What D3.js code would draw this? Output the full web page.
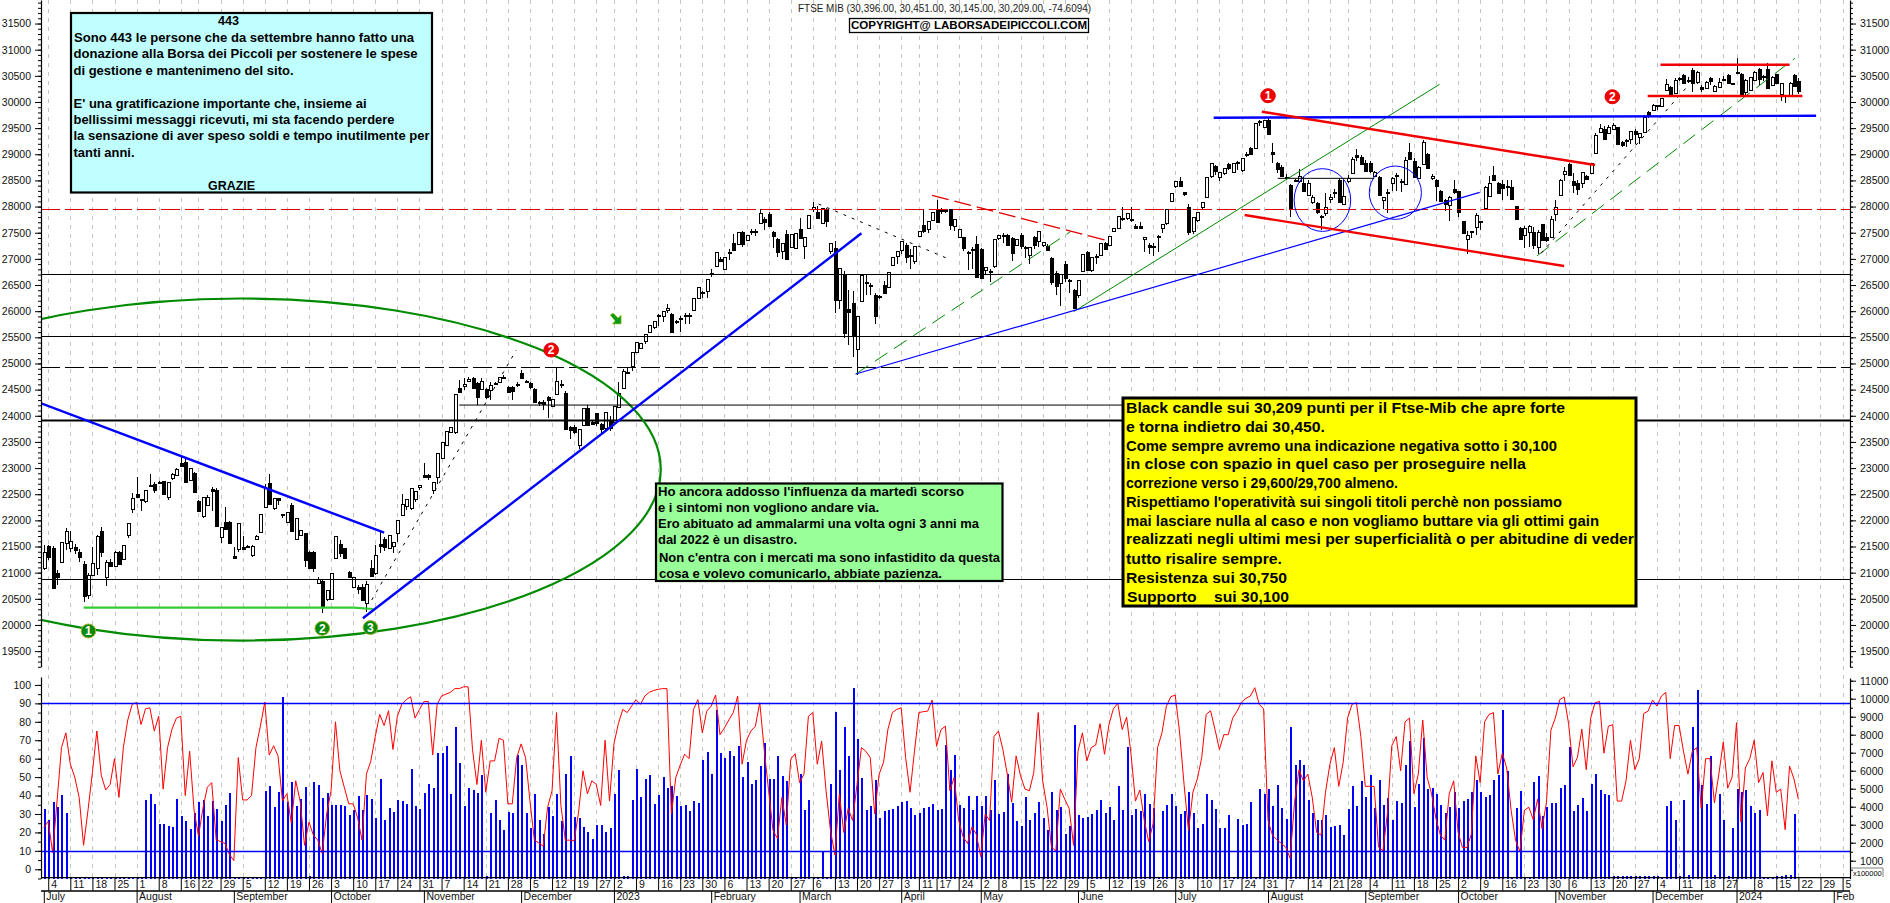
<!DOCTYPE html>
<html>
<head>
<meta charset="utf-8">
<style>
  html, body { margin: 0; padding: 0; background: #fff; overflow: hidden; }
  svg { display: block; }
  text { font-family: "Liberation Sans", Arial, sans-serif; fill: #000; }
  .axis text { font-size: 10.5px; fill: #111; }
  .box text { font-weight: bold; }
</style>
</head>
<body>
<script src="https://cdn.jsdelivr.net/npm/d3@7"></script>
<script>
// daily FTSE MIB candles, one entry per session
let opens = [
  21100,21510,21480,21000,21200,21560,21465,21495,21400,21170,
  20570,20950,21100,21790,20920,21210,21140,21400,21260,21720,
  22210,22500,22400,22385,22665,22700,22740,22745,22440,22800,
  22870,23090,23120,22770,22910,22370,22080,22300,22600,22580,
  21680,21975,21975,21320,21445,21495,21505,21330,21640,21770,
  22250,22720,22230,22420,22115,21975,22290,21640,21720,21750,
  21400,21400,20790,20840,20490,20490,21270,21550,21465,21015,
  20730,20730,20730,20420,21080,20985,21540,21640,21480,21510,
  21765,22100,22270,22230,22400,22630,22865,22865,22565,22835,
  23200,23440,23695,23675,24540,24570,24670,24725,24620,24520,
  24520,24480,24620,24650,24750,24555,24555,24615,24810,24665,
  24620,24520,24270,24260,24350,24200,24410,24600,24430,23780,
  23780,23440,23820,24140,23880,24045,23850,23760,23910,23885,
  24170,24535,24840,24940,25225,25290,25415,25620,25690,25920,
  25905,26030,25945,25810,25860,25930,25930,26020,26260,26370,
  26375,26720,26870,27005,26820,27125,27300,27300,27520,27365,
  27530,27530,27695,27760,27855,27520,27380,27140,27470,27235,
  27205,27570,27235,27585,27950,27905,27680,27955,27140,27205,
  26210,26700,26040,26150,25270,26200,26560,26490,26310,26290,
  26500,26470,26885,27045,27170,27265,27065,26970,27445,27650,
  27555,27745,27935,27915,27920,27950,27635,27415,27415,27140,
  27170,27280,27185,26800,26770,26850,27390,27460,27460,27395,
  27255,27460,27220,27075,27415,27350,27265,27255,27015,26735,
  26535,26900,26590,26410,26310,26770,27130,26800,27050,27075,
  27300,27270,27535,27585,27780,27775,27770,27635,27635,27390,
  27265,27250,27440,27575,27680,28095,28380,28495,28275,28000,
  27540,27730,27985,28190,28585,28775,28560,28635,28815,28655,
  28860,28700,29010,29115,29130,29620,29530,29655,29040,28840,
  28765,28575,28415,28500,28490,28460,28235,28085,28065,27820,
  27870,28160,28275,28510,28065,28480,28640,28990,28955,28830,
  28830,28585,28570,28130,28280,28465,28610,28490,28425,29050,
  28880,28560,28815,29000,28560,28510,28300,28130,28030,28330,
  28290,27725,27380,27525,27620,27715,27970,28190,28605,28445,
  28430,28385,28370,28010,27585,27460,27500,27520,27235,27660,
  27415,27425,27860,28220,28625,28815,28480,28460,28445,28585,
  28640,29020,29415,29480,29400,29480,29515,29240,29265,29300,
  29445,29325,29430,29800,29850,29935,29910,30230,30290,30165,
  30455,30520,30425,30610,30390,30280,30280,30450,30215,30290,
  30445,30520,30365,30575,30535,30195,30230,30420,30625,30495,
  30625,30325,30535,30150,30135,30145,30520,30396]

let closes = [
  21400,21300,20720,20920,21580,21790,21605,21430,21300,20550,
  20950,21180,21710,21380,21200,21140,21400,21180,21520,21945,
  22420,22450,22385,22590,22675,22590,22730,22500,22730,22880,
  22990,23025,22745,23000,22550,22185,22450,22450,22570,21900,
  21865,21850,21570,21290,21945,21465,21510,21510,21700,22115,
  22610,22325,22420,22380,22090,22165,21800,22040,21820,21240,
  21100,21100,20870,20360,20665,20985,21700,21370,21275,20920,
  20920,20700,20475,20790,20920,21335,21510,21480,21720,21590,
  22005,22305,22410,22610,22560,22675,22820,22820,22725,23290,
  23500,23705,23790,24410,24460,24600,24700,24540,24350,24670,
  24360,24585,24600,24750,24740,24460,24480,24600,24715,24655,
  24540,24270,24260,24230,24285,24330,24660,24590,23740,23720,
  23690,23740,24140,23820,23850,23850,23760,24070,23760,24190,
  24440,24860,24820,25210,25415,25385,25555,25745,25810,25930,
  26000,26070,25605,25790,25840,25920,25920,26245,26465,26360,
  26610,26735,27130,26960,27045,27135,27170,27520,27300,27460,
  27540,27540,27885,27695,27620,27445,27130,27300,27000,27480,
  27490,27395,27410,27840,27990,27795,27970,27730,27300,26215,
  26817,25590,25990,25510,25905,26700,26540,26510,25905,26270,
  26350,26750,27045,27150,27350,27045,27045,27250,27540,27540,
  27715,27905,27715,27930,27935,27635,27760,27565,27205,27120,
  27190,26640,26640,26850,26760,27375,27450,27450,27265,27110,
  27375,27255,27210,27220,27255,27540,27320,27185,26550,26485,
  26710,26640,26580,26060,26600,27090,26780,27045,27060,27300,
  27185,27440,27585,27820,27760,27870,27750,27600,27600,27425,
  27235,27230,27430,27660,27950,28255,28480,28400,28240,27520,
  27810,27890,28080,28570,28830,28680,28655,28730,28745,28830,
  28840,28925,29000,29000,29605,29640,29655,29380,29005,28730,
  28590,28570,27970,28490,28585,28305,28460,28190,27890,27800,
  27990,28190,28265,28095,28210,28540,28905,28945,28830,28670,
  28670,28670,28235,28180,28270,28555,28600,28480,28890,28910,
  28570,28765,29240,28730,28590,28395,28110,28050,28190,28270,
  27890,27500,27460,27515,27840,27705,28380,28445,28510,28255,
  28350,28375,28150,27765,27380,27585,27620,27270,27520,27350,
  27350,27760,27985,28500,28680,28605,28400,28350,28655,28520,
  28830,29370,29495,29290,29515,29560,29190,29190,29255,29445,
  29380,29400,29710,29750,29945,29925,30070,30340,30130,30420,
  30445,30360,30415,30370,30580,30250,30390,30390,30305,30390,
  30435,30360,30355,30565,30130,30420,30470,30580,30435,30485,
  30260,30485,30360,30360,30125,30370,30305,30209]

let highs = [
  21520,21530,21510,21050,21580,21860,21800,21540,21450,21220,
  21000,21500,21720,21865,21250,21260,21410,21420,21530,21945,
  22530,22820,22410,22590,22885,22730,22760,22750,22730,22900,
  23000,23230,23220,23000,22920,22390,22450,22480,22630,22610,
  21870,22250,21990,21500,21950,21700,21530,21520,21720,22115,
  22700,22885,22420,22430,22130,22165,22330,22040,21820,21760,
  21420,21410,20920,20870,20665,20985,21700,21620,21480,21030,
  20920,20760,20790,20840,21250,21520,21770,21680,21720,21590,
  22005,22500,22410,22610,22560,22680,23100,22880,22725,23290,
  23500,23705,23790,24410,24680,24730,24750,24750,24640,24720,
  24540,24650,24640,24750,24770,24570,24570,24640,24870,24680,
  24640,24530,24280,24300,24370,24330,24935,24680,24470,23800,
  23820,23740,24140,24200,23910,24060,23870,24070,24000,24190,
  24640,24900,24920,25210,25415,25385,25555,25745,25810,25950,
  26000,26130,25960,25830,25900,25960,25960,26245,26470,26390,
  26610,26800,27130,27030,27045,27190,27480,27520,27530,27460,
  27580,27570,27960,27800,27890,27530,27400,27300,27560,27480,
  27490,27780,27410,27840,28090,28010,27970,27970,27300,27340,
  26830,26760,26400,26390,25905,26700,26720,26530,26340,26310,
  26580,26750,27045,27150,27350,27300,27180,27250,27540,27950,
  27715,27905,28130,27970,27960,27960,27760,27565,27420,27160,
  27230,27430,27200,26850,26800,27375,27450,27490,27470,27410,
  27375,27490,27240,27220,27440,27540,27320,27290,27030,26760,
  26710,26950,26610,26430,26600,27090,27150,27045,27090,27300,
  27320,27440,27585,27820,27990,27870,27990,27670,27700,27425,
  27300,27300,27460,27660,27950,28255,28480,28560,28280,28050,
  27810,27890,28080,28570,28830,28800,28655,28730,28840,28830,
  28880,28925,29040,29130,29605,29650,29655,29720,29210,28850,
  28790,28620,28430,28530,28715,28560,28500,28220,28080,27830,
  28260,28240,28340,28540,28500,28600,28950,29100,28990,28900,
  28880,28680,28580,28190,28330,28570,28640,28520,28950,29220,
  28930,28770,29270,29030,28630,28530,28320,28150,28200,28500,
  28300,27730,27530,27530,27870,27720,28390,28590,28770,28470,
  28510,28500,28500,28020,27600,27620,27640,27600,27560,27670,
  27500,27820,28120,28520,28750,28830,28640,28500,28660,28600,
  28830,29400,29570,29540,29560,29600,29530,29250,29290,29450,
  29480,29410,29750,29830,29960,29950,30080,30440,30310,30460,
  30470,30530,30480,30650,30590,30330,30400,30470,30330,30450,
  30500,30530,30370,30850,30550,30430,30480,30600,30650,30510,
  30740,30490,30540,30370,30140,30380,30530,30451]

let lows = [
  21050,21250,20700,20760,21180,21430,21400,21350,21200,20440,
  20500,20940,20950,21300,20740,21120,21100,21160,21240,21670,
  22145,22420,22185,22325,22630,22520,22700,22480,22380,22770,
  22860,23020,22745,22750,22550,22185,22050,22280,22170,21900,
  21570,21850,21570,21280,21400,21460,21480,21300,21620,21760,
  22240,22320,22200,22300,22040,21950,21800,21620,21700,21100,
  21100,21020,20780,20220,20450,20480,21260,21300,21275,20900,
  20700,20600,20470,20250,20920,20950,21370,21420,21450,21370,
  21590,22080,22200,22200,22350,22580,22820,22780,22500,22700,
  23180,23420,23680,23660,24440,24500,24640,24520,24200,24500,
  24320,24300,24590,24640,24720,24440,24300,24550,24700,24640,
  24520,24270,24190,24110,23960,24180,24390,24530,23740,23550,
  23660,23370,23810,23820,23830,23800,23680,23700,23700,23880,
  24150,24520,24790,24860,25210,25270,25380,25580,25660,25720,
  25790,25970,25605,25760,25610,25760,25760,26000,26240,26260,
  26250,26650,26850,26950,26810,26980,27150,27290,27220,27340,
  27450,27430,27680,27550,27620,27200,27030,26990,27000,27200,
  27190,27390,27000,27570,27900,27780,27660,27610,27100,25960,
  26050,25480,25350,25130,24780,26190,26300,26300,25760,26230,
  26340,26440,26860,26900,27100,26930,26800,26910,27430,27500,
  27500,27730,27700,27860,27870,27560,27540,27400,27150,26790,
  26800,26640,26640,26700,26560,26830,27370,27300,27260,26960,
  27240,27190,27020,26900,27180,27230,27220,27150,26500,26310,
  26100,26560,26340,26050,26250,26740,26780,26750,26900,27050,
  27170,27240,27510,27580,27720,27740,27710,27580,27590,27140,
  27100,27050,27130,27490,27640,28080,28350,28390,28210,27460,
  27470,27700,27930,28180,28540,28600,28480,28600,28690,28640,
  28700,28670,28940,29000,29120,29550,29500,29360,28840,28640,
  28580,28520,27800,28470,28460,28290,28200,28050,27850,27560,
  27820,28070,28170,28060,28040,28450,28620,28880,28800,28660,
  28640,28570,28230,27960,27880,28300,28300,28280,28410,28890,
  28560,28540,28800,28720,28500,28100,28100,27910,27730,28250,
  27800,27500,27100,27400,27460,27560,27960,28180,28490,28250,
  28130,28200,28130,27740,27370,27200,27230,27180,27090,27340,
  27320,27400,27730,28200,28480,28590,28260,28220,28350,28510,
  28620,29010,29410,29280,29390,29460,29180,29130,29130,29200,
  29200,29190,29420,29700,29840,29850,29900,30220,30100,30150,
  30400,30340,30360,30200,30340,30200,30260,30330,30190,30270,
  30420,30350,30340,30540,30100,30120,30220,30400,30300,30410,
  30250,30310,30350,30020,29980,30130,30290,30145]

// volume, in the right hand scale (x100000)
let volumes = [
  3860,3250,4260,3985,4630,3650,80,80,80,80,
  80,80,80,80,80,80,80,80,80,80,
  80,80,80,4350,4690,4130,3025,3025,2915,2860,
  4410,3470,3190,2750,3650,4280,4350,3505,4300,3890,
  3230,4110,4780,80,80,80,80,80,80,80,
  4900,5130,3970,4800,10100,4260,5350,4020,4450,5090,
  150,5350,5180,4500,4760,4080,4080,4100,4040,3520,
  3800,4610,3840,4670,4430,3390,5550,3280,3910,3690,
  4350,4300,4130,6070,4020,3860,4780,5240,5040,6970,
  6990,7400,4720,8440,6440,4020,5060,4950,4760,5770,
  150,3650,4350,3250,2690,3710,3670,6900,6290,3650,
  2790,4720,3280,2510,3990,3505,4720,3210,5790,6790,
  3430,3390,2880,2620,2210,2970,2990,2600,2790,4720,
  6050,150,150,4350,6070,4540,5550,5770,4150,4630,
  5650,5060,5130,4580,4020,4110,3760,4320,4210,6610,
  7030,5830,9370,6970,6720,7120,6790,7400,5650,6480,
  5280,5500,6240,7530,5520,5550,6810,5680,5420,100,
  100,5830,3800,4350,100,100,1550,100,5240,9260,
  6050,8440,6810,10590,7760,5590,3800,4040,5460,3380,
  3750,3800,3860,4040,4260,4300,3930,3520,3670,3930,
  3985,4170,3840,3860,7450,6050,6880,4110,3950,4580,
  3800,4580,4020,4580,3840,5460,3580,3710,5830,4210,
  3190,2915,4540,3280,3670,4260,3390,2730,4820,3840,
  3985,2510,2930,8540,3520,3380,3430,3580,3800,4350,
  3670,3985,3280,5130,3800,7340,3520,3860,3760,4720,
  4170,3930,100,3760,4080,4690,4040,3620,3780,4820,
  3650,2820,3030,4690,4350,3860,2790,2820,3520,60,
  3300,2990,3030,4240,60,4960,4690,4960,4020,5180,
  3950,3300,8420,6330,6610,6290,4390,3670,3250,3250,
  3520,2880,2930,3010,2450,3890,5130,4020,5410,4540,
  5770,3930,5500,4080,4500,3250,4300,4220,6330,7670,
  3985,5280,7800,5000,5040,4720,4080,3670,3985,4820,
  3930,4300,4450,4820,5500,4820,4540,4630,5460,5770,
  9370,6010,60,3930,4850,60,60,5370,5680,3470,
  3985,4210,4220,5060,5180,7340,3760,4080,4500,3780,
  5280,5830,4910,4690,4630,150,150,150,150,150,
  150,150,150,150,150,150,100,4020,4300,3280,
  150,4390,200,8420,10480,5180,4170,6840,200,4720,
  3250,150,2840,4960,4820,4910,4020,3650,3800,100,
  120,120,150,150,200,200,3580,0]

// red oscillator, left hand scale 0-100
let oscillator = [
  22.6,26,9,37,66,74,57,50,39,13,
  32,52.5,75,51,43,46,60,39,66,81,
  89.5,90.5,78.5,87,87.6,75,83,43.5,66,76,
  82,83,40,64,32,18,33,44.5,47,16,
  15,14,8,4.7,60.6,37.6,37.6,40,66,77.6,
  90.7,62,67,61.5,37,41,25,48,37,13,
  25.6,18.5,15.8,8.6,30,42.6,80,53.4,44.4,35.5,
  35.5,28,15.8,51.6,58.8,72,84,78,86,65,
  83,89.5,92,93.6,82,86.7,91,91,62,89.5,
  94,95,96,98,98,99,99,65,46,70,
  41.8,58.8,58.8,71,70,35.5,35.5,60.6,68,60.6,
  37,15.8,14.3,12.5,33.7,42.6,85,34.6,15.8,15.8,
  15.4,31,53.4,40.9,48,46,34.6,70,37,68,
  79,86.7,85,88.5,92,89.5,94,96,97,97.6,
  98,98,30,49.8,56.6,62.4,60,86.7,92,74,
  85.8,88.5,94.5,73,76.7,81,85,94,57,70,
  75,77.6,90.4,65,42.6,21,16.7,39,24,59.7,
  62.7,47,51.6,83,85,57,69.5,42.6,21,7.7,
  40.9,20,33,26.5,46,66,64,60.6,30,51.6,
  58,76,85,86.7,87.6,60.6,41.8,64,85,85.5,
  85.8,91.8,66.7,75.8,77.6,42.6,49.8,26.5,17.6,14,
  23,19,6.8,30,26.5,72,75,65,51.6,36.4,
  61.5,50.7,43.5,42.6,52.5,85,48,33.7,12,10,
  43.5,38,33,13,64,74,58.8,66,67.4,79,
  62.4,78.5,87,90,75.8,82.5,62.4,37,43,26.5,
  15,24.7,66,74,88.5,93.6,94.5,74,46,21,
  41.8,49,60.6,84,86,75.8,65,73,73,82,
  85.8,90.7,92.7,94,98.5,89.5,87,26.5,18.5,16,
  14,12,6,36.4,54,48,51.6,39,20,18.5,
  41.8,57,66,45,58,82,89.5,90.4,72,45,
  45,45,12,10,30,67,72,53.4,80,82,
  41,51.6,81,49.8,40.9,27.4,18.5,15.8,41,48,
  20,11.8,11.8,19,61.5,47,80,84,85,51.6,
  63,55,32,15.8,9.5,32,33.7,27,38,22,
  36.4,75.5,82,92,93.5,79,55.6,60.6,76,54,
  82,90.4,91,63,77.6,78.5,37,37,48,70,
  54,60,84.5,85.8,91.8,88.5,94,96,60,78,
  78,64,51.6,64,66,33,60,60,36,51.6,
  69,44,50,79.5,25.6,55,60,70,47,52.5,
  29,58.8,41.8,43.5,21.5,56,49,38]

// week ticks: session number and day of the month ("" = tick without a label)
let weekSessions = [1,6,11,16,21,26,31,35,40,45,50,55,60,65,70,75,80,85,90,95,100,105,110,115,120,125,129,
  134,139,144,149,154,159,164,169,174,179,184,189,194,198,202,207,212,216,221,226,231,236,241,246,251,256,261,266,271,
  276,281,286,291,295,300,305,310,315,320,325,330,335,340,345,350,355,360,365,370,375,380,383,387,392,397,402,407]
let weekLabels = ["4","11","18","25","1","8","16","22","29","5","12","19","26","3","10","17","24","31","7","14","21","28","5","12","19","27","2",
  "9","16","23","30","6","13","20","27","6","13","20","27","3","11","17","24","2","8","15","22","29","5","12","19","26","3","10","17","24",
  "31","7","14","21","28","4","11","18","25","2","9","16","23","30","6","13","20","27","4","11","18","27","","8","15","22","29","5"]

let monthSessions = [0,21,43,65,86,108,129,151,171,194,212,234,256,277,299,320,342,364,383,405]
let monthLabels = ["July","August","September","October","November","December","2023","February","March","April","May","June","July","August","September","October","November","December","2024","Feb"]

let priceTicks = d3.range(19500, 31501, 500)
let priceMinorTicks = d3.range(19200, 31951, 100)
let oscTicks = d3.range(0, 101, 10)
let oscMinorTicks = d3.range(-5, 101, 5)
let volTicks = d3.range(1000, 11001, 1000)
let volMinorTicks = d3.range(500, 11001, 500)

// drawn support / resistance levels
let blackLevels = [26705, 25530, 20880]
let heavyLevel = 23925
let dashedBlackLevel = 24925
let dashedRedLevel = 27950
let shortLevels = [[94, 24205, 250, 24205], [279.2, 28540, 301, 28540]]

// trend lines as [session, price, session, price]
let blueThick = [[-0.6, 24238, 77, 21764], [72.2, 20127, 185, 27489], [264.7, 29699, 401, 29737]]
let blueThin = [[183.7, 24799, 324.9, 28272]]
let greenThin = [[233, 25990, 315.8, 30337]]
let greenDashed = [[183.7, 24799, 232.3, 27520], [337.9, 27060, 396.2, 30835]]
let blackDotted = [[74.2, 20477, 106.9, 25257], [175.3, 28049, 204.4, 27010], [338.8, 27106, 371.5, 30261]]
let redDashed = [[201, 28215, 240.8, 27347]]
let redThick = [[275.6, 29814, 351, 28794], [271.7, 27838, 344, 26863], [365.8, 30712, 395, 30712], [362.9, 30114, 397.9, 30114]]
let limeLines = [[9, 20330, 70, 20330], [70, 20330, 74.6, 20305]]

// ellipses as [session, price, session radius, price radius]
let greenEllipse = [44.6, 22972, 95, 3270]
let blueCircles = [[289.3, 28125, 6.4, 600], [305.8, 28265, 5.9, 510]]

// numbered wave markers as [session, price, label]
let redMarkers = [[277, 30120, "1"], [354.9, 30100, "2"], [114.8, 25257, "2"]]
let greenMarkers = [[10.1, 19885, "1"], [63, 19935, "2"], [73.9, 19950, "3"]]
let arrowMark = [129.5, 25831]

let titleText = "FTSE MIB (30,396.00, 30,451.00, 30,145.00, 30,209.00, -74.6094)"
let copyrightText = "COPYRIGHT@ LABORSADEIPICCOLI.COM"

let width = 1890
let height = 903
let left = 41
let right = 1850
let axisBottom = 877.7

let svg = d3.select("body").append("svg")
  .attr("width", width)
  .attr("height", height)

svg.append("rect").attr("width", width).attr("height", height).attr("fill", "#fff")

svg.append("clipPath").attr("id", "plot")
  .append("rect").attr("x", left).attr("y", 0).attr("width", right - left).attr("height", 668)

let x = d3.scaleLinear().domain([0, 397]).range([43.8, 1798.4])
let y = d3.scaleLinear().domain([19200, 31950]).range([666.8, 0])
let yOsc = d3.scaleLinear().domain([-5, 104.3]).range([878.5, 677])
let yVol = d3.scaleLinear().domain([0, 11150]).range([878.7, 678])

let px = i => Math.round(x(i))

// dashed week grid
svg.append("g").selectAll("line")
  .data(weekSessions)
  .enter().append("line")
  .attr("x1", d => px(d) + 0.5)
  .attr("x2", d => px(d) + 0.5)
  .attr("y1", 0)
  .attr("y2", axisBottom)
  .attr("stroke", "#c4c4c4")
  .attr("stroke-dasharray", "4,5")

// volume bars
svg.append("g").selectAll("rect")
  .data(volumes)
  .enter().append("rect")
  .attr("x", (d, i) => px(i))
  .attr("y", d => yVol(d))
  .attr("width", 2)
  .attr("height", d => yVol(0) - yVol(d))
  .attr("fill", "#0000ff")
  .attr("shape-rendering", "crispEdges")

// oscillator
svg.append("path")
  .attr("d", d3.line().x((d, i) => x(i)).y(d => yOsc(d))(oscillator))
  .attr("fill", "none")
  .attr("stroke", "#ff0000")
  .attr("stroke-width", 1)

svg.append("g").selectAll("line")
  .data([90, 10])
  .enter().append("line")
  .attr("x1", left).attr("x2", right)
  .attr("y1", d => Math.round(yOsc(d)) + 0.5)
  .attr("y2", d => Math.round(yOsc(d)) + 0.5)
  .attr("stroke", "#0000ff")
  .attr("stroke-width", 1.3)

// candles
let candles = svg.append("g").selectAll("g")
  .data(opens.map((o, i) => i))
  .enter().append("g")
  .attr("shape-rendering", "crispEdges")

candles.append("line")
  .attr("x1", i => px(i) + 0.5)
  .attr("x2", i => px(i) + 0.5)
  .attr("y1", i => y(highs[i]))
  .attr("y2", i => y(lows[i]))
  .attr("stroke", "#000")

candles.append("rect")
  .attr("x", i => px(i) - 0.5)
  .attr("y", i => Math.round(y(Math.max(opens[i], closes[i]))) + 0.5)
  .attr("width", 3)
  .attr("height", i => Math.max(1, Math.round(Math.abs(y(opens[i]) - y(closes[i])))))
  .attr("fill", i => closes[i] >= opens[i] ? "#fff" : "#000")
  .attr("stroke", "#000")

// horizontal levels
let levels = svg.append("g")

function level(v, stroke, sw, dash) {
  levels.append("line")
    .attr("x1", left).attr("x2", right)
    .attr("y1", Math.round(y(v)) + 0.5).attr("y2", Math.round(y(v)) + 0.5)
    .attr("stroke", stroke)
    .attr("stroke-width", sw)
    .attr("stroke-dasharray", dash || null)
}

blackLevels.forEach(v => level(v, "#000", 1))
level(heavyLevel, "#000", 2)
level(dashedBlackLevel, "#000", 1, "19,5")
level(dashedRedLevel, "#e00000", 1, "19,5")

// annotations
let annotations = svg.append("g").attr("clip-path", "url(#plot)")

function drawLines(rows, stroke, sw, dash) {
  annotations.selectAll(null)
    .data(rows)
    .enter().append("line")
    .attr("x1", d => x(d[0]))
    .attr("y1", d => y(d[1]))
    .attr("x2", d => x(d[2]))
    .attr("y2", d => y(d[3]))
    .attr("stroke", stroke)
    .attr("stroke-width", sw)
    .attr("stroke-dasharray", dash || null)
}

function drawEllipses(rows, stroke, sw) {
  annotations.selectAll(null)
    .data(rows)
    .enter().append("ellipse")
    .attr("cx", d => x(d[0]))
    .attr("cy", d => y(d[1]))
    .attr("rx", d => x(d[0] + d[2]) - x(d[0]))
    .attr("ry", d => y(d[1] - d[3]) - y(d[1]))
    .attr("fill", "none")
    .attr("stroke", stroke)
    .attr("stroke-width", sw)
}

drawEllipses([greenEllipse], "#008a00", 2.2)
drawEllipses(blueCircles, "#0000ff", 1)
drawLines(shortLevels, "#000", 1)
drawLines(limeLines, "#33cc33", 2.2)
drawLines(greenThin, "#008a00", 1)
drawLines(greenDashed, "#008a00", 1, "15,8")
drawLines(blackDotted, "#000", 1, "3,6")
drawLines(redDashed, "#e00000", 1.4, "17,6")
drawLines(blueThin, "#0000ff", 1.2)
drawLines(blueThick, "#0000ff", 2.4)
drawLines(redThick, "#f00000", 2.4)

// wave markers
function drawMarkers(rows, fill, edge) {
  let m = svg.append("g").selectAll("g")
    .data(rows)
    .enter().append("g")
    .attr("transform", d => "translate(" + x(d[0]) + "," + y(d[1]) + ")")

  m.append("ellipse")
    .attr("rx", 7.3)
    .attr("ry", 7)
    .attr("fill", fill)
    .attr("stroke", edge)
  m.append("text")
    .attr("text-anchor", "middle")
    .attr("dy", "0.36em")
    .attr("font-size", 12)
    .attr("font-weight", "bold")
    .style("fill", "#fff")
    .text(d => d[2])
}

drawMarkers(redMarkers, "#f00000", "#e00000")
drawMarkers(greenMarkers, "#0a8a0a", "#a8b030")

svg.append("path")
  .attr("transform", "translate(" + x(arrowMark[0]) + "," + y(arrowMark[1]) + ")")
  .attr("d", "M-6,-5 L-3,-7 L2,-2 L5,-5 L5,4 L-4,4 L-1,1 Z")
  .attr("fill", "#0a9a1a")
  .attr("stroke", "#b8c820")
  .attr("stroke-width", 0.6)

// axes
function valueAxis(axis, xPos, ticks, minor, scale, fmt) {
  let orient = axis === "left" ? d3.axisLeft : d3.axisRight
  let g = svg.append("g")
    .attr("class", "axis")
    .attr("transform", "translate(" + xPos + ",0)")
  g.append("g")
    .call(orient(scale).tickValues(minor).tickSize(3).tickSizeOuter(0).tickFormat(""))
  g.append("g")
    .call(orient(scale).tickValues(ticks).tickSize(6).tickSizeOuter(0).tickPadding(4).tickFormat(fmt))
    .select(".domain").remove()
  g.selectAll(".tick line").attr("stroke", "#000")
  g.selectAll(".domain").attr("stroke", "#000").attr("stroke-width", 1.2)
}

let plain = d3.format("d")
valueAxis("left", left, priceTicks, priceMinorTicks, y, plain)
valueAxis("right", right, priceTicks, priceMinorTicks, y, plain)
valueAxis("left", left, oscTicks, oscMinorTicks, yOsc, plain)
valueAxis("right", right, volTicks, volMinorTicks, yVol, plain)

// time axis, two rows
let weekAxis = svg.append("g")
  .attr("class", "axis")
  .attr("transform", "translate(0," + axisBottom + ")")
  .call(d3.axisBottom(x).tickValues(weekSessions).tickSize(13).tickSizeOuter(0)
    .tickFormat((d, i) => weekLabels[i]))
weekAxis.select(".domain").remove()
weekAxis.selectAll(".tick text")
  .attr("text-anchor", "start")
  .attr("x", 2.5)
  .attr("y", 3)
  .attr("dy", "0.71em")

let monthAxis = svg.append("g")
  .attr("class", "axis")
  .attr("transform", "translate(0,891)")
  .call(d3.axisBottom(x).tickValues(monthSessions).tickSize(12).tickSizeOuter(0)
    .tickFormat((d, i) => monthLabels[i]))
monthAxis.select(".domain").remove()
monthAxis.selectAll(".tick text")
  .attr("text-anchor", "start")
  .attr("x", 2)
  .attr("y", 2)
  .attr("dy", "0.71em")

svg.selectAll(null)
  .data([axisBottom, 891])
  .enter().append("line")
  .attr("x1", left).attr("x2", right)
  .attr("y1", d => d).attr("y2", d => d)
  .attr("stroke", "#000")
  .attr("stroke-width", 1.3)

// scale factor box, bottom right
svg.append("path")
  .attr("d", "M1851,868 H1883 V877")
  .attr("fill", "none")
  .attr("stroke", "#808080")
svg.append("text")
  .attr("x", 1853).attr("y", 875.5)
  .attr("font-size", 7.5)
  .text("x100000")

// title
svg.append("text")
  .attr("x", 798).attr("y", 12)
  .attr("font-size", 10.5)
  .attr("textLength", 293)
  .attr("lengthAdjust", "spacingAndGlyphs")
  .style("fill", "#222")
  .text(titleText)

svg.append("rect")
  .attr("x", 849.5).attr("y", 18.5)
  .attr("width", 239).attr("height", 14)
  .attr("fill", "#fff")
  .attr("stroke", "#000")
  .attr("stroke-width", 1.3)
svg.append("text")
  .attr("x", 851).attr("y", 29)
  .attr("font-size", 11)
  .attr("font-weight", "bold")
  .attr("textLength", 236)
  .attr("lengthAdjust", "spacingAndGlyphs")
  .text(copyrightText)

// comment boxes: [text, x, baseline, width]
let donationLines = [
  ["443", 218, 25, 21],
  ["Sono 443 le persone che da settembre hanno fatto una", 74, 41.7, 340],
  ["donazione alla Borsa dei Piccoli per sostenere le spese", 73.5, 58, 344],
  ["di gestione e mantenimeno del sito.", 73.5, 74.7, 220],
  ["E' una gratificazione importante che, insieme ai", 73.5, 108, 293],
  ["bellissimi messaggi ricevuti, mi sta facendo perdere", 73.5, 124.3, 321],
  ["la sensazione di aver speso soldi e tempo inutilmente per", 73.5, 140.3, 356],
  ["tanti anni.", 73.5, 157, 61],
  ["GRAZIE", 208, 190, 47]
]
let healthLines = [
  ["Ho ancora addosso l'influenza da martedì scorso", 658, 495.7, 306],
  ["e i sintomi non vogliono andare via.", 658, 512.3, 221],
  ["Ero abituato ad ammalarmi una volta ogni 3 anni ma", 658, 527.7, 321],
  ["dal 2022 è un disastro.", 658, 544.3, 139],
  ["Non c'entra con i mercati ma sono infastidito da questa", 659, 562, 341],
  ["cosa e volevo comunicarlo, abbiate pazienza.", 659, 578.3, 283]
]
let outlookLines = [
  ["Black candle sui 30,209 punti per il Ftse-Mib che apre forte", 1126, 412.7, 439],
  ["e torna indietro dai 30,450.", 1126, 431.7, 199],
  ["Come sempre avremo una indicazione negativa sotto i 30,100", 1126, 450.7, 431],
  ["in close con spazio in quel caso per proseguire nella", 1126, 469, 400],
  ["correzione verso i 29,600/29,700 almeno.", 1126, 487.7, 272],
  ["Rispettiamo l'operatività sui singoli titoli perchè non possiamo", 1126, 506.7, 436],
  ["mai lasciare nulla al caso e non vogliamo buttare via gli ottimi gain", 1126, 525.7, 473],
  ["realizzati negli ultimi mesi per superficialità o per abitudine di veder", 1126, 544.3, 508],
  ["tutto risalire sempre.", 1126, 564, 156],
  ["Resistenza sui 30,750", 1126, 582.7, 161],
  ["Supporto\u00a0\u00a0\u00a0 sui 30,100", 1127, 601.7, 162]
]

function commentBox(x0, y0, x1, y1, fill, sw, size, lines) {
  let g = svg.append("g").attr("class", "box")
  g.append("rect")
    .attr("x", x0).attr("y", y0)
    .attr("width", x1 - x0).attr("height", y1 - y0)
    .attr("fill", fill)
    .attr("stroke", "#000")
    .attr("stroke-width", sw)
  g.selectAll("text")
    .data(lines)
    .enter().append("text")
    .attr("x", d => d[1])
    .attr("y", d => d[2])
    .attr("font-size", size)
    .attr("textLength", d => d[3])
    .attr("lengthAdjust", "spacingAndGlyphs")
    .text(d => d[0])
}

commentBox(71, 13, 432, 192.5, "#bfffff", 2.2, 13.5, donationLines)
commentBox(656, 483.5, 1002.5, 581, "#99ff99", 2.2, 13.5, healthLines)
commentBox(1123, 398, 1636, 606, "#ffff00", 3, 15.5, outlookLines)
</script>
</body>
</html>
